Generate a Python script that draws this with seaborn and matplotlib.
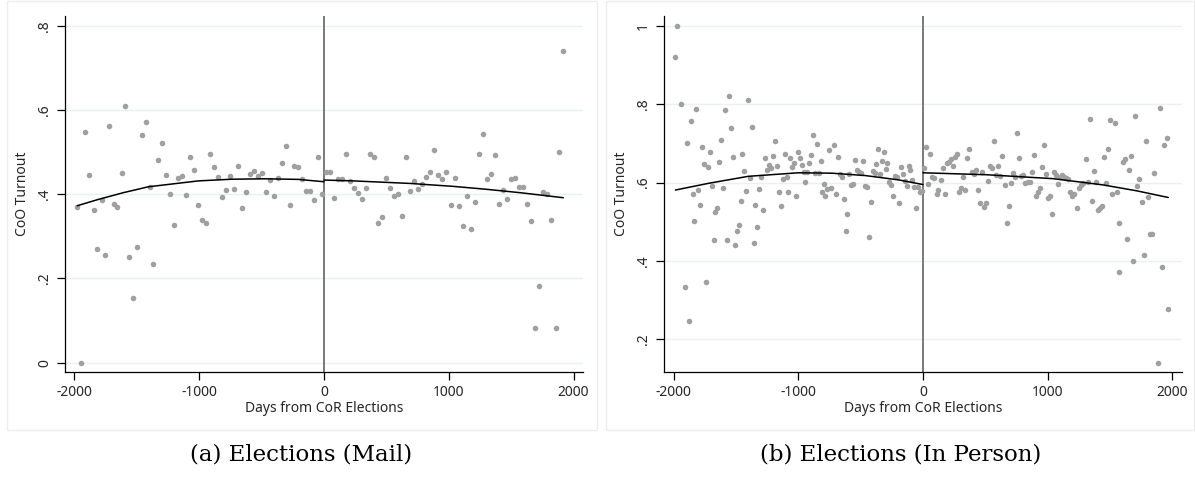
import numpy as np
import pandas as pd
import matplotlib
matplotlib.use("Agg")
import matplotlib.pyplot as plt
from matplotlib.patches import Rectangle
import seaborn as sns

# ---------------- data ----------------
mail_days = [-1977, -1947, -1912, -1880, -1845, -1816, -1781, -1752, -1720, -1685,
             -1656, -1621, -1592, -1560, -1528, -1496, -1461, -1429, -1397, -1368,
             -1333, -1301, -1269, -1237, -1205, -1173, -1141, -1109, -1077, -1045,
             -1013, -981, -949, -917, -885, -853, -820, -788, -756, -724,
             -692, -660, -628, -596, -564, -532, -500, -468, -436, -404,
             -372, -340, -308, -276, -244, -212, -180, -148, -116, -84,
             -52, -20, 16, 48, 80, 112, 144, 176, 208, 240,
             272, 304, 337, 369, 401, 433, 465, 497, 529, 561,
             593, 625, 657, 689, 721, 753, 785, 817, 849, 881,
             913, 946, 978, 1015, 1047, 1079, 1111, 1143, 1175, 1207,
             1239, 1271, 1303, 1335, 1367, 1399, 1431, 1463, 1496, 1528,
             1560, 1592, 1624, 1656, 1694, 1726, 1752, 1784, 1822, 1857,
             1886, 1918]
mail_turnout = [0.369, 0.000, 0.548, 0.447, 0.364, 0.271, 0.386, 0.257, 0.562, 0.377,
                0.369, 0.450, 0.611, 0.252, 0.154, 0.276, 0.542, 0.572, 0.418, 0.234,
                0.481, 0.523, 0.445, 0.400, 0.328, 0.440, 0.443, 0.399, 0.490, 0.459,
                0.375, 0.339, 0.333, 0.496, 0.466, 0.441, 0.394, 0.410, 0.443, 0.412,
                0.468, 0.367, 0.406, 0.449, 0.455, 0.443, 0.451, 0.406, 0.435, 0.396,
                0.439, 0.474, 0.516, 0.375, 0.468, 0.466, 0.436, 0.408, 0.408, 0.387,
                0.488, 0.401, 0.453, 0.453, 0.392, 0.436, 0.437, 0.495, 0.432, 0.415,
                0.404, 0.388, 0.416, 0.496, 0.489, 0.333, 0.347, 0.439, 0.416, 0.397,
                0.401, 0.348, 0.490, 0.409, 0.432, 0.413, 0.424, 0.442, 0.454, 0.506,
                0.447, 0.437, 0.454, 0.375, 0.439, 0.372, 0.325, 0.396, 0.317, 0.382,
                0.496, 0.543, 0.436, 0.448, 0.493, 0.377, 0.410, 0.389, 0.436, 0.438,
                0.417, 0.417, 0.376, 0.337, 0.083, 0.181, 0.405, 0.402, 0.340, 0.083,
                0.501, 0.740]

person_days = [-1986, -1970, -1941, -1911, -1895, -1879, -1863, -1847, -1834, -1818,
               -1804, -1788, -1772, -1756, -1740, -1727, -1708, -1695, -1679, -1666,
               -1655, -1634, -1618, -1601, -1585, -1575, -1556, -1540, -1526, -1511,
               -1494, -1478, -1462, -1449, -1433, -1419, -1403, -1387, -1371, -1358,
               -1345, -1329, -1313, -1297, -1280, -1267, -1249, -1233, -1221, -1205,
               -1189, -1173, -1157, -1141, -1125, -1109, -1093, -1083, -1067, -1051,
               -1035, -1018, -1002, -986, -970, -954, -944, -928, -912, -901,
               -880, -866, -848, -834, -820, -810, -794, -783, -767, -751,
               -735, -714, -698, -682, -666, -650, -634, -618, -607, -591,
               -575, -559, -543, -527, -511, -495, -484, -468, -451, -435,
               -419, -403, -387, -377, -361, -345, -329, -313, -297, -286,
               -270, -254, -238, -222, -206, -190, -179, -163, -147, -131,
               -115, -104, -88, -72, -56, -40, -24, -8,
               8, 24, 40, 56, 72, 88, 110, 123, 142, 158,
               174, 190, 206, 222, 238, 254, 270, 291, 307, 323,
               339, 355, 371, 391, 407, 423, 439, 455, 471, 492,
               508, 524, 540, 556, 572, 588, 604, 620, 636, 658,
               674, 690, 706, 722, 738, 754, 770, 786, 802, 818,
               840, 856, 872, 888, 904, 920, 936, 952, 973, 989,
               1005, 1021, 1037, 1053, 1069, 1085, 1101, 1117, 1133, 1150,
               1166, 1182, 1198, 1214, 1238, 1254, 1270, 1286, 1305, 1321,
               1337, 1353, 1369, 1385, 1401, 1417, 1433, 1452, 1468, 1486,
               1502, 1518, 1537, 1553, 1569, 1572, 1601, 1620, 1636, 1652,
               1668, 1686, 1703, 1719, 1735, 1754, 1772, 1786, 1804, 1820,
               1836, 1855, 1884, 1903, 1919, 1935, 1954, 1967]
person_turnout = [0.920, 1.000, 0.800, 0.333, 0.700, 0.247, 0.756, 0.570, 0.503, 0.788,
                  0.580, 0.543, 0.691, 0.648, 0.346, 0.641, 0.677, 0.591, 0.453, 0.525,
                  0.536, 0.653, 0.708, 0.585, 0.786, 0.453, 0.821, 0.739, 0.666, 0.442,
                  0.477, 0.492, 0.552, 0.672, 0.629, 0.579, 0.810, 0.612, 0.743, 0.446,
                  0.543, 0.486, 0.583, 0.613, 0.531, 0.662, 0.631, 0.646, 0.638, 0.668,
                  0.705, 0.643, 0.576, 0.541, 0.609, 0.673, 0.615, 0.576, 0.664, 0.640,
                  0.651, 0.565, 0.677, 0.663, 0.646, 0.626, 0.601, 0.628, 0.649, 0.671,
                  0.722, 0.624, 0.699, 0.624, 0.655, 0.576, 0.596, 0.566, 0.583, 0.683,
                  0.585, 0.695, 0.570, 0.665, 0.622, 0.614, 0.559, 0.477, 0.520, 0.623,
                  0.594, 0.597, 0.658, 0.633, 0.628, 0.625, 0.656, 0.591, 0.588, 0.462,
                  0.551, 0.630, 0.624, 0.648, 0.685, 0.622, 0.655, 0.678, 0.634, 0.649,
                  0.601, 0.593, 0.567, 0.618, 0.614, 0.548, 0.639, 0.622, 0.603, 0.591,
                  0.643, 0.632, 0.606, 0.589, 0.535, 0.589, 0.576, 0.578,
                  0.636, 0.691, 0.596, 0.672, 0.615, 0.611, 0.570, 0.581, 0.606, 0.637,
                  0.570, 0.649, 0.653, 0.659, 0.643, 0.666, 0.673, 0.577, 0.585, 0.613,
                  0.581, 0.662, 0.686, 0.626, 0.623, 0.631, 0.580, 0.548, 0.628, 0.537,
                  0.549, 0.604, 0.643, 0.636, 0.705, 0.620, 0.642, 0.617, 0.667, 0.593,
                  0.497, 0.540, 0.599, 0.625, 0.613, 0.726, 0.662, 0.617, 0.620, 0.600,
                  0.602, 0.602, 0.627, 0.670, 0.566, 0.576, 0.585, 0.639, 0.696, 0.621,
                  0.561, 0.566, 0.520, 0.626, 0.619, 0.596, 0.614, 0.619, 0.615, 0.612,
                  0.609, 0.577, 0.566, 0.571, 0.536, 0.585, 0.593, 0.599, 0.659, 0.602,
                  0.762, 0.553, 0.630, 0.601, 0.529, 0.535, 0.541, 0.666, 0.600, 0.685,
                  0.759, 0.571, 0.752, 0.576, 0.496, 0.371, 0.653, 0.661, 0.455, 0.631,
                  0.669, 0.400, 0.769, 0.591, 0.608, 0.550, 0.414, 0.705, 0.564, 0.468,
                  0.468, 0.625, 0.140, 0.791, 0.384, 0.696, 0.714, 0.277]

# fitted curves (before / after the CoR election)
mail_fit_pre_days = [-1977, -1808, -1608, -1408, -1007, -740, -473, -206, 0]
mail_fit_pre_vals = [0.373, 0.388, 0.404, 0.418, 0.432, 0.436, 0.437, 0.4356, 0.430]
mail_fit_post_days = [0, 235, 689, 1036, 1303, 1571, 1918]
mail_fit_post_vals = [0.434, 0.432, 0.426, 0.419, 0.412, 0.404, 0.392]
person_fit_pre_days = [-1986, -1722, -1401, -1000, -732, -465, -198, 0]
person_fit_pre_vals = [0.581, 0.598, 0.616, 0.625, 0.624, 0.618, 0.607, 0.595]
person_fit_post_days = [0, 511, 1045, 1446, 1714, 1967]
person_fit_post_vals = [0.625, 0.620, 0.610, 0.594, 0.579, 0.562]

x_ticks = [-2000, -1000, 0, 1000, 2000]
x_ticklabels = ["-2000", "-1000", "0", "1000", "2000"]
mail_yticks = [0.0, 0.2, 0.4, 0.6, 0.8]
mail_yticklabels = ["0", ".2", ".4", ".6", ".8"]
person_yticks = [0.2, 0.4, 0.6, 0.8, 1.0]
person_yticklabels = [".2", ".4", ".6", ".8", "1"]
captions = ["(a) Elections (Mail)", "(b) Elections (In Person)"]
x_label = "Days from CoR Elections"
y_label = "CoO Turnout"

# ---------------- style ----------------
sns.set_theme(style="white")
plt.rcParams["font.family"] = ["Noto Sans", "DejaVu Sans"]

W, H = 1196, 479
fig = plt.figure(figsize=(W / 100, H / 100), dpi=100)
fig.patch.set_facecolor("white")

def fx(px):
    return px / W

def fy(py):
    return 1 - py / H

# panel outer boxes
for x0, x1 in [(7, 597), (606, 1194)]:
    fig.patches.append(Rectangle((fx(x0), fy(430)), fx(x1) - fx(x0), fy(1.5) - fy(430),
                                 transform=fig.transFigure, fill=False,
                                 edgecolor="#eeeeee", lw=1.0, zorder=0))

panels = [
    dict(days=mail_days, vals=mail_turnout, yt=mail_yticks, ytl=mail_yticklabels,
         ylim=(-0.023, 0.824), rect=(65.3, 582.7), xlim=(-2073, 2073), cap_x=301,
         fits=[(mail_fit_pre_days, mail_fit_pre_vals),
               (mail_fit_post_days, mail_fit_post_vals)]),
    dict(days=person_days, vals=person_turnout, yt=person_yticks, ytl=person_yticklabels,
         ylim=(0.116, 1.025), rect=(664.3, 1181.7), xlim=(-2075, 2075), cap_x=901,
         fits=[(person_fit_pre_days, person_fit_pre_vals),
               (person_fit_post_days, person_fit_post_vals)]),
]

point_color = "#a0a0a0"
for i, p in enumerate(panels):
    l, r = p["rect"]
    ax = fig.add_axes([fx(l), fy(372.3), fx(r) - fx(l), fy(16) - fy(372.3)])
    ax.set_facecolor("white")
    df = pd.DataFrame({"days": p["days"], "turnout": p["vals"]})
    ax.set_xlim(*p["xlim"])
    ax.set_ylim(*p["ylim"])
    for yv in p["yt"]:
        ax.axhline(yv, color="#e9f1f1", lw=1.0, zorder=0)
    sns.scatterplot(data=df, x="days", y="turnout", ax=ax, color=point_color,
                    s=16, linewidth=0, zorder=2)
    for fd, fv in p["fits"]:
        fdf = pd.DataFrame({"days": fd, "turnout": fv})
        sns.lineplot(data=fdf, x="days", y="turnout", ax=ax, color="black",
                     lw=1.1, zorder=3, sort=True, estimator=None)
    ax.axvline(0, color="#555555", lw=1.1, zorder=1)
    ax.set_xticks(x_ticks)
    ax.set_xticklabels(x_ticklabels, fontsize=10)
    ax.set_yticks(p["yt"])
    ax.set_yticklabels(p["ytl"], fontsize=10, rotation=90, va="center")
    ax.tick_params(axis="both", which="major", direction="out", length=6, width=0.9,
                   color="black", bottom=True, left=True, pad=3.5)
    ax.set_xlabel(x_label, fontsize=10, labelpad=0.5)
    ax.set_ylabel(y_label, fontsize=10, labelpad=5)
    for s in ["top", "right"]:
        ax.spines[s].set_visible(False)
    for s in ["left", "bottom"]:
        ax.spines[s].set_color("black")
        ax.spines[s].set_linewidth(0.9)
    fig.text(fx(p["cap_x"]), fy(455), captions[i], ha="center", va="center",
             fontsize=16.5, family=["DejaVu Serif"], color="black")

fig.savefig("out.png", dpi=100, facecolor="white")
